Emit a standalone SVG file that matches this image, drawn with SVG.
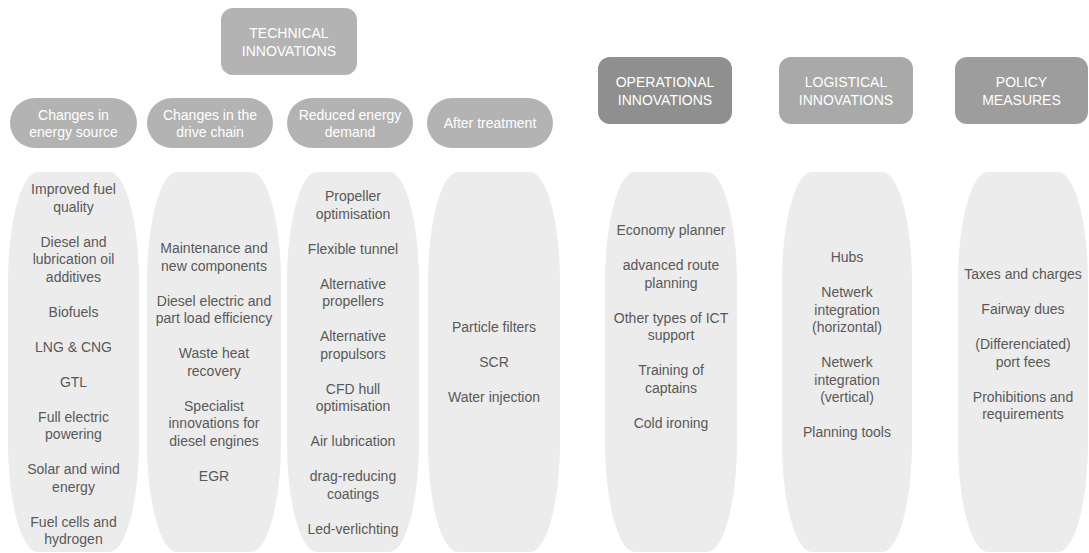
<svg xmlns="http://www.w3.org/2000/svg" width="1089" height="553" viewBox="0 0 1089 553">
  <style>
    text { font-family: "Liberation Sans", Arial, sans-serif; font-size: 14px; text-anchor: middle; }
    .hd { fill: #ffffff; }
    .item { fill: #595959; }
    .tech { fill: #b3b3b3; }
    .sub { fill: #b3b3b3; }
    .oper { fill: #8f8f8f; }
    .logi { fill: #a9a9a9; }
    .poli { fill: #9d9d9d; }
    .list { fill: #ececec; }
  </style>
  <rect width="1089" height="553" fill="#ffffff"/>

  <!-- top-level category boxes -->
  <g id="technical-innovations">
    <rect class="tech" x="221" y="8" width="136" height="67" rx="12"/>
    <text class="hd" x="289" y="37.5">TECHNICAL</text>
    <text class="hd" x="289" y="55.5">INNOVATIONS</text>
  </g>
  <g id="operational-innovations">
    <rect class="oper" x="598" y="57" width="134" height="67" rx="12"/>
    <text class="hd" x="665" y="87">OPERATIONAL</text>
    <text class="hd" x="665" y="105">INNOVATIONS</text>
  </g>
  <g id="logistical-innovations">
    <rect class="logi" x="779" y="57" width="134" height="67" rx="12"/>
    <text class="hd" x="846" y="87">LOGISTICAL</text>
    <text class="hd" x="846" y="105">INNOVATIONS</text>
  </g>
  <g id="policy-measures">
    <rect class="poli" x="955" y="57" width="133" height="67" rx="12"/>
    <text class="hd" x="1021.5" y="87">POLICY</text>
    <text class="hd" x="1021.5" y="105">MEASURES</text>
  </g>

  <!-- technical sub-categories -->
  <g id="energy-source">
    <rect class="sub" x="10" y="98" width="127" height="50" rx="25"/>
    <text class="hd" x="73.5" y="119.5">Changes in</text>
    <text class="hd" x="73.5" y="137">energy source</text>
  </g>
  <g id="drive-chain">
    <rect class="sub" x="147" y="98" width="126" height="50" rx="25"/>
    <text class="hd" x="210" y="119.5">Changes in the</text>
    <text class="hd" x="210" y="137">drive chain</text>
  </g>
  <g id="energy-demand">
    <rect class="sub" x="287" y="98" width="126" height="50" rx="25"/>
    <text class="hd" x="350" y="119.5">Reduced energy</text>
    <text class="hd" x="350" y="137">demand</text>
  </g>
  <g id="after-treatment">
    <rect class="sub" x="427" y="98" width="126" height="50" rx="25"/>
    <text class="hd" x="490" y="127.5">After treatment</text>
  </g>

  <!-- lists of measures -->
  <g id="list-energy-source">
    <rect class="list" x="8" y="172" width="131" height="380" rx="30" ry="110"/>
    <text class="item" x="73.5" y="194">Improved fuel</text>
    <text class="item" x="73.5" y="211.5">quality</text>
    <text class="item" x="73.5" y="246.5">Diesel and</text>
    <text class="item" x="73.5" y="264">lubrication oil</text>
    <text class="item" x="73.5" y="281.5">additives</text>
    <text class="item" x="73.5" y="316.5">Biofuels</text>
    <text class="item" x="73.5" y="351.5">LNG &amp; CNG</text>
    <text class="item" x="73.5" y="386.5">GTL</text>
    <text class="item" x="73.5" y="421.5">Full electric</text>
    <text class="item" x="73.5" y="439">powering</text>
    <text class="item" x="73.5" y="474">Solar and wind</text>
    <text class="item" x="73.5" y="491.5">energy</text>
    <text class="item" x="73.5" y="526.5">Fuel cells and</text>
    <text class="item" x="73.5" y="544">hydrogen</text>
  </g>
  <g id="list-drive-chain">
    <rect class="list" x="147" y="172" width="134" height="380" rx="30" ry="110"/>
    <text class="item" x="214" y="253">Maintenance and</text>
    <text class="item" x="214" y="270.5">new components</text>
    <text class="item" x="214" y="305.5">Diesel electric and</text>
    <text class="item" x="214" y="323">part load efficiency</text>
    <text class="item" x="214" y="358">Waste heat</text>
    <text class="item" x="214" y="375.5">recovery</text>
    <text class="item" x="214" y="410.5">Specialist</text>
    <text class="item" x="214" y="428">innovations for</text>
    <text class="item" x="214" y="445.5">diesel engines</text>
    <text class="item" x="214" y="480.5">EGR</text>
  </g>
  <g id="list-energy-demand">
    <rect class="list" x="287" y="172" width="132" height="380" rx="30" ry="110"/>
    <text class="item" x="353" y="201">Propeller</text>
    <text class="item" x="353" y="218.5">optimisation</text>
    <text class="item" x="353" y="253.5">Flexible tunnel</text>
    <text class="item" x="353" y="288.5">Alternative</text>
    <text class="item" x="353" y="306">propellers</text>
    <text class="item" x="353" y="341">Alternative</text>
    <text class="item" x="353" y="358.5">propulsors</text>
    <text class="item" x="353" y="393.5">CFD hull</text>
    <text class="item" x="353" y="411">optimisation</text>
    <text class="item" x="353" y="446">Air lubrication</text>
    <text class="item" x="353" y="481">drag-reducing</text>
    <text class="item" x="353" y="498.5">coatings</text>
    <text class="item" x="353" y="533.5">Led-verlichting</text>
  </g>
  <g id="list-after-treatment">
    <rect class="list" x="428" y="172" width="132" height="380" rx="30" ry="110"/>
    <text class="item" x="494" y="332">Particle filters</text>
    <text class="item" x="494" y="367">SCR</text>
    <text class="item" x="494" y="402">Water injection</text>
  </g>
  <g id="list-operational">
    <rect class="list" x="605" y="172" width="132" height="380" rx="30" ry="110"/>
    <text class="item" x="671" y="235">Economy planner</text>
    <text class="item" x="671" y="270">advanced route</text>
    <text class="item" x="671" y="287.5">planning</text>
    <text class="item" x="671" y="322.5">Other types of ICT</text>
    <text class="item" x="671" y="340">support</text>
    <text class="item" x="671" y="375">Training of</text>
    <text class="item" x="671" y="392.5">captains</text>
    <text class="item" x="671" y="427.5">Cold ironing</text>
  </g>
  <g id="list-logistical">
    <rect class="list" x="782" y="172" width="130" height="380" rx="30" ry="110"/>
    <text class="item" x="847" y="262">Hubs</text>
    <text class="item" x="847" y="297">Netwerk</text>
    <text class="item" x="847" y="314.5">integration</text>
    <text class="item" x="847" y="332">(horizontal)</text>
    <text class="item" x="847" y="367">Netwerk</text>
    <text class="item" x="847" y="384.5">integration</text>
    <text class="item" x="847" y="402">(vertical)</text>
    <text class="item" x="847" y="437">Planning tools</text>
  </g>
  <g id="list-policy">
    <rect class="list" x="958" y="172" width="130" height="380" rx="30" ry="110"/>
    <text class="item" x="1023" y="279">Taxes and charges</text>
    <text class="item" x="1023" y="314">Fairway dues</text>
    <text class="item" x="1023" y="349">(Differenciated)</text>
    <text class="item" x="1023" y="366.5">port fees</text>
    <text class="item" x="1023" y="401.5">Prohibitions and</text>
    <text class="item" x="1023" y="419">requirements</text>
  </g>

  <!-- the layout has no connecting lines -->
  <g id="connectors"/>
</svg>
